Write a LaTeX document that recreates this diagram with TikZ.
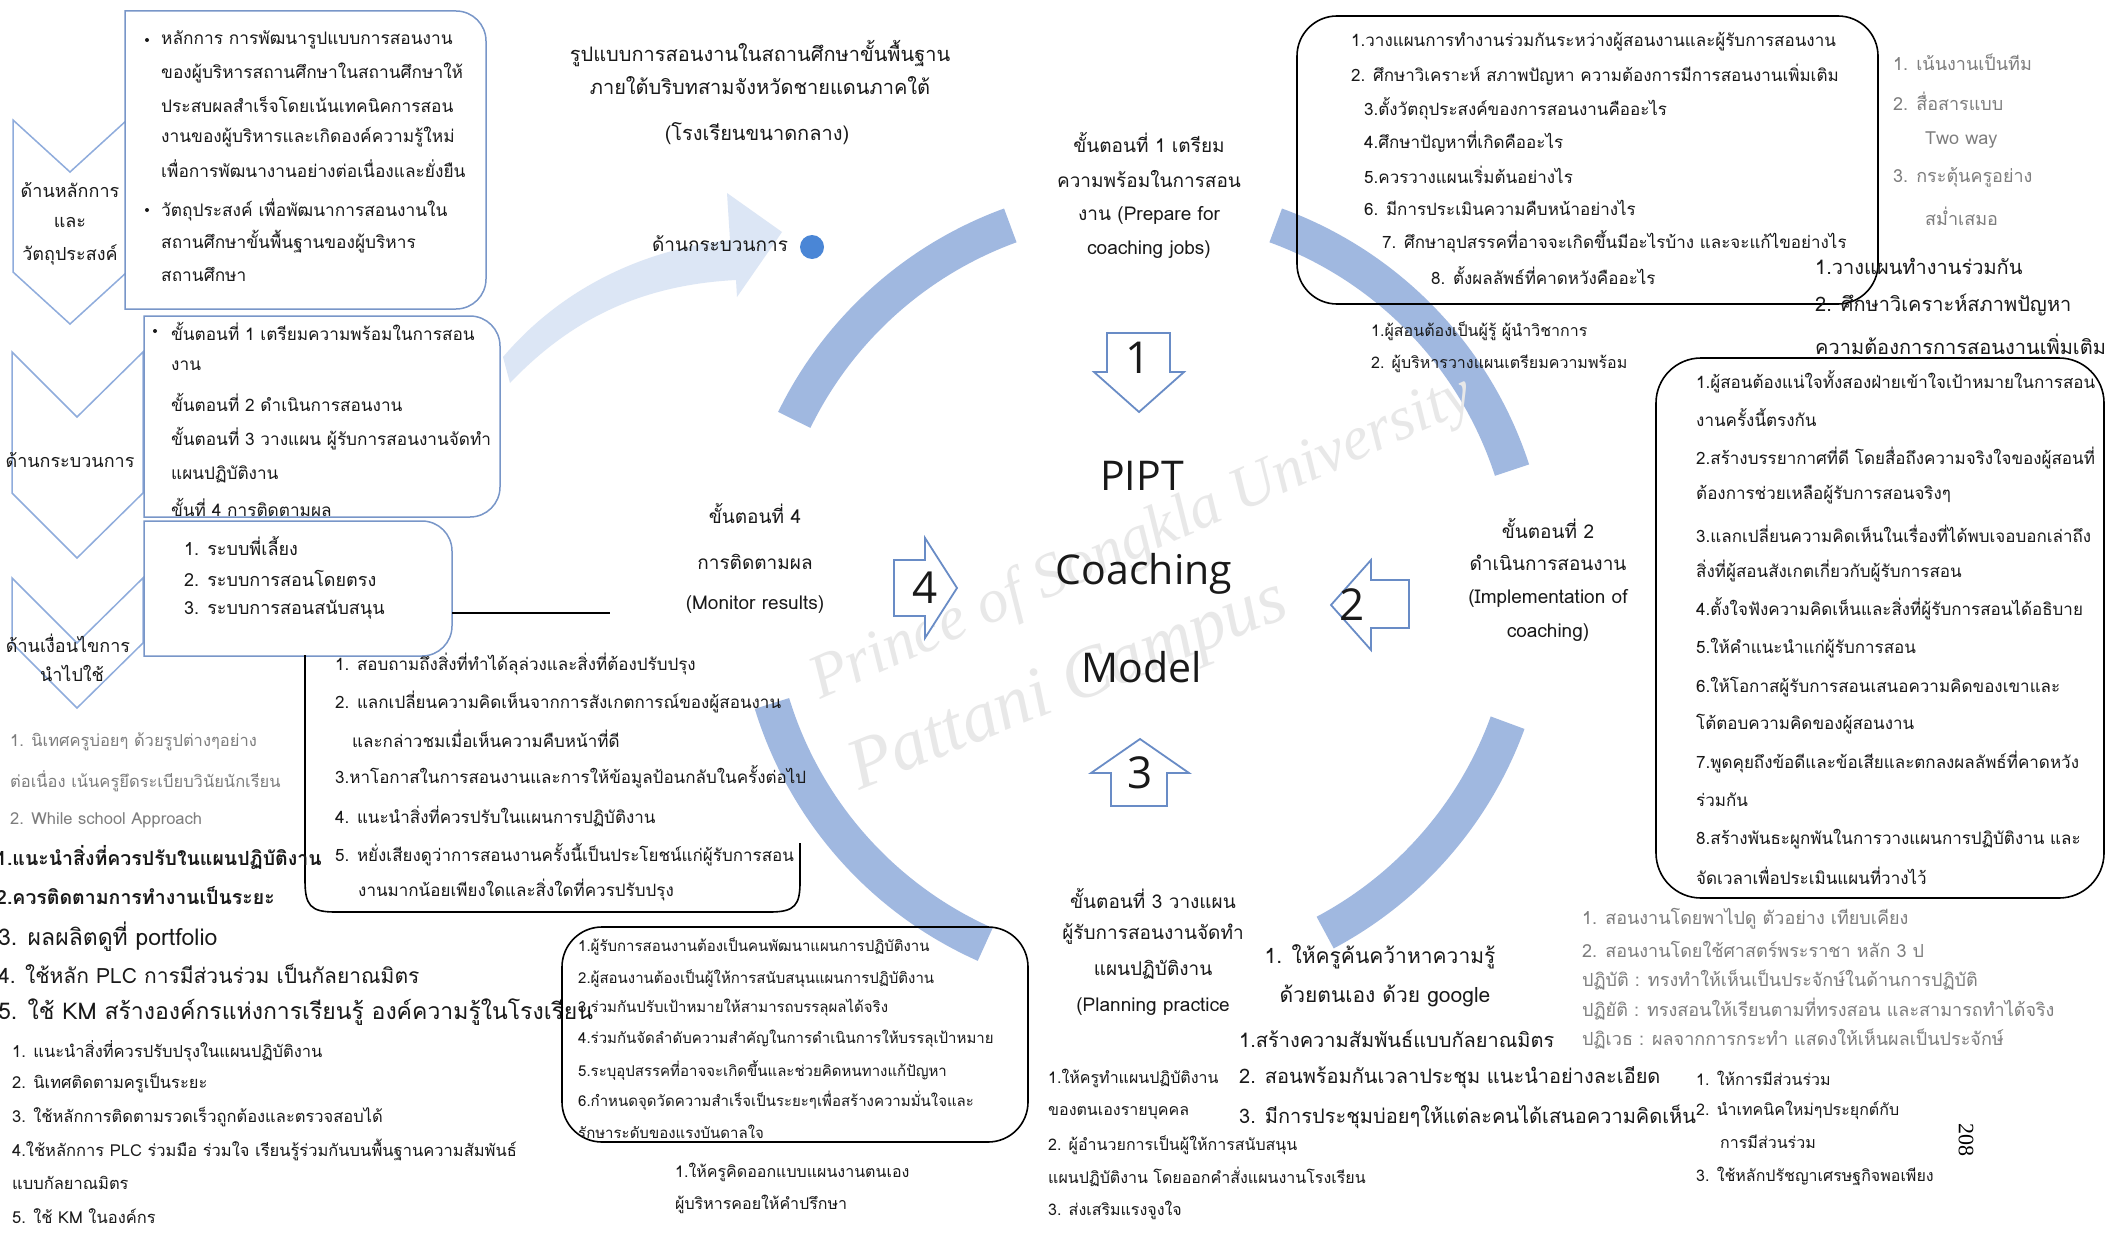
\documentclass[tikz,border=0pt]{standalone}
\usepackage{fontspec}
\setmainfont[Script=Thai]{Loma}
\newfontfamily\lat{Open Sans}
\newfontfamily\ser{Liberation Serif}
\definecolor{ink}{RGB}{25,25,25}
\definecolor{fade}{RGB}{125,125,125}
\definecolor{boxblue}{RGB}{120,150,200}
\definecolor{chevblue}{RGB}{143,172,220}
\definecolor{arcblue}{RGB}{160,184,224}
\definecolor{lightarrow}{RGB}{220,230,245}
\definecolor{arrowline}{RGB}{105,140,198}
\definecolor{dotblue}{RGB}{74,134,214}
\tikzset{
  t/.style={font=\fontsize{#1}{#1}\selectfont, inner sep=0pt, anchor=west, text=ink},
  tb/.style={font=\bfseries\fontsize{#1}{#1}\selectfont, inner sep=0pt, anchor=west, text=ink},
  tc/.style={font=\fontsize{#1}{#1}\selectfont, inner sep=0pt, anchor=center, text=ink},
  g/.style={text=fade},
  bx/.style={draw=boxblue, line width=1.5pt, fill=white},
  kb/.style={draw=black, line width=1.6pt},
  chev/.style={draw=chevblue, line width=1.5pt, fill=white},
  band/.style={draw=arcblue, line width=36pt},
  barrow/.style={draw=arrowline, line width=1.8pt, fill=white, line join=miter},
  num/.style={font=\lat\fontsize{44}{44}\selectfont, inner sep=0pt, text=ink},
  bul/.style={circle, fill=ink, inner sep=0pt, minimum size=4pt},
  wmark/.style={font=\ser\itshape\fontsize{#1}{#1}\selectfont, text=gray!18},
}
\begin{document}
\begin{tikzpicture}[x=1pt,y=-1pt]
\useasboundingbox (0,0) rectangle (2108,1236);
\fill[white] (0,0) rectangle (2108,1236);

% ---- circular bands
\coordinate (cc) at (1143,590);
\draw[band] ([shift={(-154:388)}]cc) arc[start angle=-154,end angle=-110,radius=388];
\draw[band] ([shift={(-70:388)}]cc) arc[start angle=-70,end angle=-18,radius=388];
\draw[band] ([shift={(20:388)}]cc) arc[start angle=20,end angle=62,radius=388];
\draw[band] ([shift={(114:388)}]cc) arc[start angle=114,end angle=163,radius=388];

% ---- big light arrow
\fill[lightarrow] (503,357) .. controls (560,290) and (640,250) .. (730,240) -- (727,193) -- (782,232) -- (737,297) -- (736,280) .. controls (640,285) and (570,320) .. (510,383) -- cycle;

% ---- watermark
\node[wmark=62, rotate=24] (wm1) at (1142,540) {Prince of Songkla University};
\node[wmark=72, rotate=22] (wm2) at (1069,688) {Pattani Campus};

% ---- chevrons
\draw[chev] (13,120) -- (70,172) -- (127,120) -- (127,272) -- (70,324) -- (13,272) -- cycle;
\draw[chev] (12,352) -- (77,417) -- (143,352) -- (143,493) -- (77,558) -- (12,493) -- cycle;
\draw[chev] (12,578) -- (77,643) -- (143,578) -- (143,643) -- (77,708) -- (12,643) -- cycle;
\node[tc=18] (c1a) at (70,190) {ด้านหลักการ};
\node[tc=18] (c1b) at (70,222) {และ};
\node[tc=18] (c1c) at (70,255) {วัตถุประสงค์};
\node[tc=18] (c2a) at (70,460) {ด้านกระบวนการ};
\node[tc=18] (c3a) at (68,643) {ด้านเงื่อนไขการ};
\node[tc=18] (c3b) at (72,673) {นำไปใช้};

% ---- left boxes (blue)
\draw[bx] (125,11) -- (456,11) arc[start angle=-90,end angle=0,radius=30] -- (486,279) arc[start angle=0,end angle=90,radius=30] -- (125,309) -- cycle;
\draw[bx] (144,316) -- (470,316) arc[start angle=-90,end angle=0,radius=30] -- (500,487) arc[start angle=0,end angle=90,radius=30] -- (144,517) -- cycle;
\draw[bx] (144,521) -- (422,521) arc[start angle=-90,end angle=0,radius=30] -- (452,626) arc[start angle=0,end angle=90,radius=30] -- (144,656) -- cycle;

\node[bul] (bu1) at (147,40) {};
\node[bul] (bu2) at (147,210) {};
\foreach \y/\s [count=\i] in {40/{หลักการ  การพัฒนารูปแบบการสอนงาน},73/{ของผู้บริหารสถานศึกษาในสถานศึกษาให้},105/{ประสบผลสำเร็จโดยเน้นเทคนิคการสอน},137/{งานของผู้บริหารและเกิดองค์ความรู้ใหม่},169/{เพื่อการพัฒนางานอย่างต่อเนื่องและยั่งยืน},210/{วัตถุประสงค์ เพื่อพัฒนาการสอนงานใน},242/{สถานศึกษาขั้นพื้นฐานของผู้บริหาร},274/{สถานศึกษา}}
  \node[t=17.3] (b1-\i) at (161,\y) {\s};

\node[bul] (bu3) at (155,331) {};
\foreach \y/\s [count=\i] in {331/{ขั้นตอนที่ 1 เตรียมความพร้อมในการสอน},366/{งาน},402/{ขั้นตอนที่ 2 ดำเนินการสอนงาน},439/{ขั้นตอนที่ 3 วางแผน ผู้รับการสอนงานจัดทำ},474/{แผนปฏิบัติงาน},507/{ขั้นที่ 4 การติดตามผล}}
  \node[t=17.2] (b2-\i) at (171,\y) {\s};

\foreach \y/\s [count=\i] in {546/{1. ระบบพี่เลี้ยง},578/{2. ระบบการสอนโดยตรง},610/{3. ระบบการสอนสนับสนุน}}
  \node[t=18] (b3-\i) at (184,\y) {\s};

\coordinate (l3a) at (452,613);
\coordinate (l3b) at (610,613);
\draw[kb] (l3a) -- (l3b);

% ---- box 4 (monitoring)
\draw[kb] (305,655) -- (305,880) .. controls (305,905) and (310,912) .. (335,912) -- (770,912) .. controls (795,912) and (800,905) .. (800,882) -- (800,843);
\foreach \x/\y/\s [count=\i] in {335/664/{1. สอบถามถึงสิ่งที่ทำได้ลุล่วงและสิ่งที่ต้องปรับปรุง},335/702/{2. แลกเปลี่ยนความคิดเห็นจากการสังเกตการณ์ของผู้สอนงาน},352/739/{และกล่าวชมเมื่อเห็นความคืบหน้าที่ดี},335/777/{3.หาโอกาสในการสอนงานและการให้ข้อมูลป้อนกลับในครั้งต่อไป},335/816/{4. แนะนำสิ่งที่ควรปรับในแผนการปฏิบัติงาน},335/855/{5. หยั่งเสียงดูว่าการสอนงานครั้งนี้เป็นประโยชน์แก่ผู้รับการสอน},358/890/{งานมากน้อยเพียงใดและสิ่งใดที่ควรปรับปรุง}}
  \node[t=17] (b4-\i) at (\x,\y) {\s};

% ---- left bottom texts
\foreach \y/\s [count=\i] in {742/{1. นิเทศครูบ่อยๆ ด้วยรูปต่างๆอย่าง},781/{ต่อเนื่อง เน้นครูยึดระเบียบวินัยนักเรียน},820/{2. While school Approach}}
  \node[t=16.5,g] (lg-\i) at (10,\y) {\s};
\foreach \y/\s [count=\i] in {858/{1.แนะนำสิ่งที่ควรปรับในแผนปฏิบัติงาน},896/{2.ควรติดตามการทำงานเป็นระยะ}}
  \node[tb=19.5] (ld-\i) at (-4,\y) {\s};
\node[t=23] (ld-3) at (-2,937) {3. ผลผลิตดูที่ portfolio};
\node[t=21] (ld-4) at (-2,974) {4. ใช้หลัก PLC การมีส่วนร่วม เป็นกัลยาณมิตร};
\node[t=23] (ld-5) at (-2,1012) {5. ใช้ KM สร้างองค์กรแห่งการเรียนรู้ องค์ความรู้ในโรงเรียน};
\foreach \y/\s [count=\i] in {1051/{1. แนะนำสิ่งที่ควรปรับปรุงในแผนปฏิบัติงาน},1083/{2. นิเทศติดตามครูเป็นระยะ},1117/{3. ใช้หลักการติดตามรวดเร็วถูกต้องและตรวจสอบได้},1150/{4.ใช้หลักการ PLC ร่วมมือ ร่วมใจ เรียนรู้ร่วมกันบนพื้นฐานความสัมพันธ์},1183/{แบบกัลยาณมิตร},1216/{5. ใช้ KM ในองค์กร}}
  \node[t=16.5] (ls-\i) at (12,\y) {\s};

% ---- title
\node[tc=20] (title1) at (760,54) {รูปแบบการสอนงานในสถานศึกษาขั้นพื้นฐาน};
\node[tc=20] (title2) at (760,86) {ภายใต้บริบทสามจังหวัดชายแดนภาคใต้};
\node[tc=20] (title3) at (757,134) {(โรงเรียนขนาดกลาง)};
\node[tc=19] (proc) at (720,244) {ด้านกระบวนการ};
\node[circle, fill=dotblue, minimum size=24pt, inner sep=0pt] (dot) at (812,247) {};

% ---- top right box
\draw[kb, rounded corners=40] (1297,16) rectangle (1878,304);
\foreach \x/\y/\s [count=\i] in {1351/42/{1.วางแผนการทำงานร่วมกันระหว่างผู้สอนงานและผู้รับการสอนงาน},1351/75/{2. ศึกษาวิเคราะห์ สภาพปัญหา ความต้องการมีการสอนงานเพิ่มเติม},1364/109/{3.ตั้งวัตถุประสงค์ของการสอนงานคืออะไร},1364/142/{4.ศึกษาปัญหาที่เกิดคืออะไร},1364/175/{5.ควรวางแผนเริ่มต้นอย่างไร},1364/208/{6. มีการประเมินความคืบหน้าอย่างไร},1382/242/{7. ศึกษาอุปสรรคที่อาจจะเกิดขึ้นมีอะไรบ้าง และจะแก้ไขอย่างไร},1431/276/{8. ตั้งผลลัพธ์ที่คาดหวังคืออะไร}}
  \node[t=17] (tr-\i) at (\x,\y) {\s};

\foreach \x/\y/\s [count=\i] in {1893/62/{1. เน้นงานเป็นทีม},1893/101/{2. สื่อสารแบบ},1925/140/{Two way},1893/177/{3. กระตุ้นครูอย่าง},1925/216/{สม่ำเสมอ}}
  \node[t=18,g] (rg-\i) at (\x,\y) {\s};
\foreach \y/\s [count=\i] in {266/{1.วางแผนทำงานร่วมกัน},305/{2. ศึกษาวิเคราะห์สภาพปัญหา},344/{ความต้องการการสอนงานเพิ่มเติม}}
  \node[t=20] (rp-\i) at (1815,\y) {\s};
\foreach \y/\s [count=\i] in {331/{1.ผู้สอนต้องเป็นผู้รู้ ผู้นำวิชาการ},364/{2. ผู้บริหารวางแผนเตรียมความพร้อม}}
  \node[t=16] (s1-\i) at (1371,\y) {\s};

% ---- right box
\draw[kb, rounded corners=45] (1656,358) rectangle (2104,898);
\foreach \y/\s [count=\i] in {382/{1.ผู้สอนต้องแน่ใจทั้งสองฝ่ายเข้าใจเป้าหมายในการสอน},418/{งานครั้งนี้ตรงกัน},458/{2.สร้างบรรยากาศที่ดี โดยสื่อถึงความจริงใจของผู้สอนที่},495/{ต้องการช่วยเหลือผู้รับการสอนจริงๆ},534/{3.แลกเปลี่ยนความคิดเห็นในเรื่องที่ได้พบเจอบอกเล่าถึง},571/{สิ่งที่ผู้สอนสังเกตเกี่ยวกับผู้รับการสอน},609/{4.ตั้งใจฟังความคิดเห็นและสิ่งที่ผู้รับการสอนได้อธิบาย},648/{5.ให้คำแนะนำแก่ผู้รับการสอน},687/{6.ให้โอกาสผู้รับการสอนเสนอความคิดของเขาและ},724/{โต้ตอบความคิดของผู้สอนงาน},762/{7.พูดคุยถึงข้อดีและข้อเสียและตกลงผลลัพธ์ที่คาดหวัง},800/{ร่วมกัน},839/{8.สร้างพันธะผูกพันในการวางแผนการปฏิบัติงาน และ},876/{จัดเวลาเพื่อประเมินแผนที่วางไว้}}
  \node[t=17] (rb-\i) at (1696,\y) {\s};

% ---- step labels
\foreach \y/\s [count=\i] in {142/{ขั้นตอนที่ 1 เตรียม},179/{ความพร้อมในการสอน},215/{งาน (Prepare for},250/{coaching jobs)}}
  \node[tc=19] (st1-\i) at (1149,\y) {\s};
\foreach \y/\s [count=\i] in {528/{ขั้นตอนที่ 2},563/{ดำเนินการสอนงาน},598/{(Implementation of},633/{coaching)}}
  \node[tc=19] (st2-\i) at (1548,\y) {\s};
\foreach \y/\s [count=\i] in {513/{ขั้นตอนที่ 4},562/{การติดตามผล},605/{(Monitor  results)}}
  \node[tc=19] (st4-\i) at (755,\y) {\s};
\foreach \y/\s [count=\i] in {898/{ขั้นตอนที่ 3  วางแผน},934/{ผู้รับการสอนงานจัดทำ},970/{แผนปฏิบัติงาน},1007/{(Planning practice}}
  \node[tc=19] (st3-\i) at (1153,\y) {\s};

% ---- center
\node[font=\lat\fontsize{41}{41}\selectfont, text=ink] (pipt) at (1142,476) {PIPT};
\node[font=\lat\fontsize{41}{41}\selectfont, text=ink] (coach) at (1144,574) {Coaching};
\node[font=\lat\fontsize{41}{41}\selectfont, text=ink] (model) at (1142,667) {Model};

% ---- block arrows
\draw[barrow] (1107,333) -- (1170,333) -- (1170,372) -- (1184,372) -- (1139,412) -- (1094,372) -- (1107,372) -- cycle;
\node[num] (n1) at (1138,358) {1};
\draw[barrow] (1409,580) -- (1371,580) -- (1371,560) -- (1331,605) -- (1371,650) -- (1371,628) -- (1409,628) -- cycle;
\node[num] (n2) at (1352,605) {2};
\draw[barrow] (894,560) -- (925,560) -- (925,538) -- (957,588) -- (925,638) -- (925,616) -- (894,616) -- cycle;
\node[num] (n4) at (925,588) {4};
\draw[barrow] (1111,806) -- (1111,773) -- (1091,773) -- (1140,739) -- (1189,773) -- (1167,773) -- (1167,806) -- cycle;
\node[num] (n3) at (1140,773) {3};

% ---- box 5 (planning)
\draw[kb, rounded corners=40] (562,927) rectangle (1028,1142);
\foreach \y/\s [count=\i] in {947/{1.ผู้รับการสอนงานต้องเป็นคนพัฒนาแผนการปฏิบัติงาน},979/{2.ผู้สอนงานต้องเป็นผู้ให้การสนับสนุนแผนการปฏิบัติงาน},1008/{3.ร่วมกันปรับเป้าหมายให้สามารถบรรลุผลได้จริง},1039/{4.ร่วมกันจัดลำดับความสำคัญในการดำเนินการให้บรรลุเป้าหมาย},1070/{5.ระบุอุปสรรคที่อาจจะเกิดขึ้นและช่วยคิดหนทางแก้ปัญหา},1101/{6.กำหนดจุดวัดความสำเร็จเป็นระยะๆเพื่อสร้างความมั่นใจและ},1132/{รักษาระดับของแรงบันดาลใจ}}
  \node[t=15] (b5-\i) at (578,\y) {\s};
\node[t=16] (p1) at (675,1172) {1.ให้ครูคิดออกแบบแผนงานตนเอง};
\node[t=16] (p2) at (675,1204) {ผู้บริหารคอยให้คำปรึกษา};

% ---- bottom middle
\node[tc=21] (m1) at (1380,957) {1. ให้ครูค้นคว้าหาความรู้};
\node[tc=21] (m2) at (1385,996) {ด้วยตนเอง ด้วย google};
\foreach \y/\s [count=\i] in {1039/{1.สร้างความสัมพันธ์แบบกัลยาณมิตร},1078/{2. สอนพร้อมกันเวลาประชุม แนะนำอย่างละเอียด},1117/{3. มีการประชุมบ่อยๆให้แต่ละคนได้เสนอความคิดเห็น}}
  \node[t=20] (mm-\i) at (1239,\y) {\s};
\foreach \y/\s [count=\i] in {1078/{1.ให้ครูทำแผนปฏิบัติงาน},1113/{ของตนเองรายบุคคล},1145/{2. ผู้อำนวยการเป็นผู้ให้การสนับสนุน},1177/{แผนปฏิบัติงาน โดยออกคำสั่งแผนงานโรงเรียน},1210/{3. ส่งเสริมแรงจูงใจ}}
  \node[t=16] (ml-\i) at (1048,\y) {\s};

% ---- bottom right
\foreach \y/\s [count=\i] in {919/{1. สอนงานโดยพาไปดู  ตัวอย่าง เทียบเคียง},949/{2. สอนงานโดยใช้ศาสตร์พระราชา  หลัก 3 ป},980/{ปฏิบัติ : ทรงทำให้เห็นเป็นประจักษ์ในด้านการปฏิบัติ},1009/{ปฏิยัติ : ทรงสอนให้เรียนตามที่ทรงสอน และสามารถทำได้จริง},1039/{ปฏิเวธ : ผลจากการกระทำ แสดงให้เห็นผลเป็นประจักษ์}}
  \node[t=18,g] (br-\i) at (1582,\y) {\s};
\foreach \x/\y/\s [count=\i] in {1696/1078/{1. ให้การมีส่วนร่วม},1696/1110/{2. นำเทคนิคใหม่ๆประยุกต์กับ},1720/1142/{การมีส่วนร่วม},1696/1176/{3. ใช้หลักปรัชญาเศรษฐกิจพอเพียง}}
  \node[t=16] (bq-\i) at (\x,\y) {\s};
\node[font=\ser\fontsize{22}{22}\selectfont, rotate=-90, inner sep=0pt] (pg) at (1966,1140) {208};
\end{tikzpicture}
\end{document}
